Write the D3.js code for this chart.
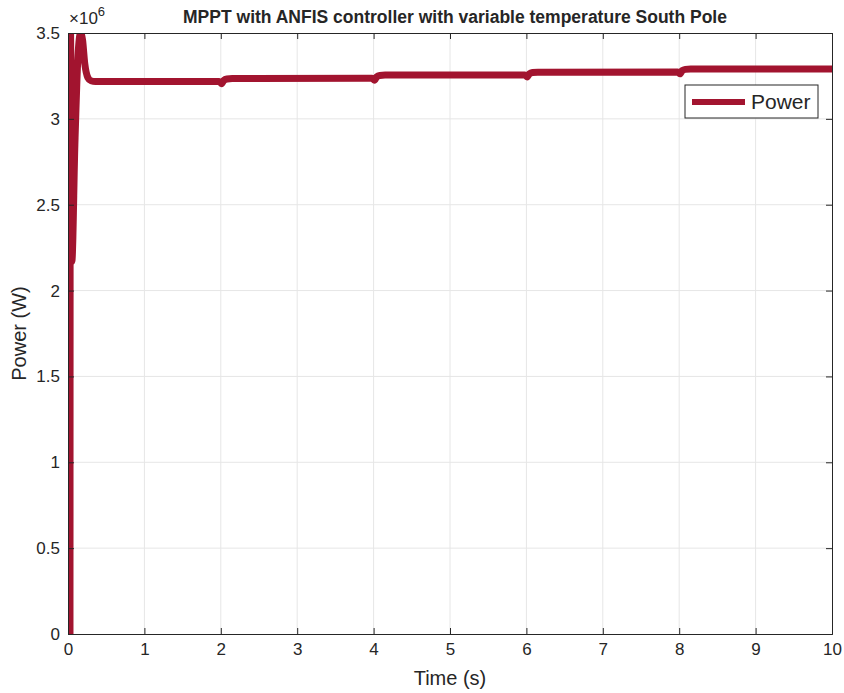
<!DOCTYPE html>
<html>
<head>
<meta charset="utf-8">
<script src="https://cdn.jsdelivr.net/npm/d3@7"></script>
<style>
  body { margin: 0; background: #fff; }
  text { font-family: "Liberation Sans", Arial, Helvetica, sans-serif; fill: #262626; }
</style>
</head>
<body>
<div id="chart"></div>
<script>
// time (s) and power (x1e6 W)
const timeS = [0.026, 0.03, 0.05, 0.09, 0.13, 0.165, 0.19, 0.22, 0.26, 0.3, 0.36, 0.5,
  1.98, 2.01, 2.04, 2.08, 2.15, 3.98, 4.01, 4.04, 4.08, 4.15, 5.98, 6.01, 6.04, 6.08, 6.15,
  7.98, 8.01, 8.04, 8.08, 8.15, 10];
const powerMW = [0, 3.65, 2.17, 2.85, 3.36, 3.5, 3.46, 3.32, 3.24, 3.222, 3.218, 3.218,
  3.218, 3.205, 3.224, 3.232, 3.235, 3.237, 3.225, 3.245, 3.253, 3.255, 3.256, 3.244, 3.263, 3.27, 3.272,
  3.273, 3.262, 3.281, 3.288, 3.29, 3.29];
const xTicks = [0, 1, 2, 3, 4, 5, 6, 7, 8, 9, 10];
const yTicks = [0, 0.5, 1, 1.5, 2, 2.5, 3, 3.5];
const yTickLabels = ["0", "0.5", "1", "1.5", "2", "2.5", "3", "3.5"];
const seriesName = "Power";
const lineColor = "#a2142f";

const W = 844, H = 693;
const margin = {top: 33, right: 12, bottom: 59, left: 68};
const width = W - margin.left - margin.right,
      height = H - margin.top - margin.bottom;

const svg = d3.select("#chart").append("svg")
  .attr("width", W).attr("height", H);

const g = svg.append("g")
  .attr("transform", `translate(${margin.left},${margin.top})`);

const x = d3.scaleLinear().domain([0, 10]).range([0, width]);
const y = d3.scaleLinear().domain([0, 3.5]).range([height, 0]);

// grid
g.append("g").selectAll("line").data(xTicks.slice(1, -1)).enter().append("line")
  .attr("x1", d => x(d)).attr("x2", d => x(d))
  .attr("y1", 0).attr("y2", height)
  .attr("stroke", "#e6e6e6").attr("stroke-width", 1);
g.append("g").selectAll("line").data(yTicks.slice(1, -1)).enter().append("line")
  .attr("y1", d => y(d)).attr("y2", d => y(d))
  .attr("x1", 0).attr("x2", width)
  .attr("stroke", "#e6e6e6").attr("stroke-width", 1);

// clip so the spike is cut at the axes top
svg.append("defs").append("clipPath").attr("id", "clip")
  .append("rect").attr("x", 0).attr("y", 0).attr("width", width).attr("height", height);

const data = timeS.map((t, i) => ({t: t, p: powerMW[i]}));
const line = d3.line().x(d => x(d.t)).y(d => y(d.p)).curve(d3.curveMonotoneX);

g.append("path")
  .datum(data)
  .attr("clip-path", "url(#clip)")
  .attr("fill", "none")
  .attr("stroke", lineColor)
  .attr("stroke-width", 7)
  .attr("stroke-linejoin", "round")
  .attr("d", line);

// axes
const axisColor = "#262626";
const xAxis = g.append("g").attr("transform", `translate(0,${height})`)
  .call(d3.axisBottom(x).tickValues(xTicks).tickSize(-6).tickPadding(9).tickFormat(d3.format("d")));
const xTop = g.append("g")
  .call(d3.axisTop(x).tickValues(xTicks).tickSize(-6).tickFormat(""));
const yAxis = g.append("g")
  .call(d3.axisLeft(y).tickValues(yTicks).tickSize(-6).tickPadding(8).tickFormat((d, i) => yTickLabels[i]));
const yRight = g.append("g").attr("transform", `translate(${width},0)`)
  .call(d3.axisRight(y).tickValues(yTicks).tickSize(-6).tickFormat(""));

[xAxis, xTop, yAxis, yRight].forEach(a => {
  a.select(".domain").attr("stroke", axisColor).attr("stroke-width", 1);
  a.selectAll(".tick line").attr("stroke", axisColor);
  a.selectAll("text").style("font-size", "17px").attr("fill", axisColor)
    .style("font-family", "'Liberation Sans', Arial, sans-serif");
});
xAxis.selectAll("text").attr("dy", "0.71em");

// exponent label
const expo = svg.append("text").attr("x", margin.left + 1).attr("y", 24)
  .style("font-size", "17px");
expo.append("tspan").text("\u00d710");
expo.append("tspan").attr("dy", -8).style("font-size", "13px").text("6");

// title
svg.append("text")
  .attr("x", margin.left + width / 2 + 5).attr("y", 23)
  .attr("text-anchor", "middle")
  .style("font-size", "17.5px").style("font-weight", "bold").attr("fill", "#000")
  .text("MPPT with ANFIS controller with variable temperature South Pole");

// axis labels
svg.append("text")
  .attr("x", margin.left + width / 2).attr("y", 685)
  .attr("text-anchor", "middle").style("font-size", "20px")
  .text("Time (s)");
svg.append("text")
  .attr("transform", `translate(26,${margin.top + height / 2}) rotate(-90)`)
  .attr("text-anchor", "middle").style("font-size", "20px")
  .text("Power (W)");

// legend
const lg = svg.append("g").attr("transform", "translate(685,85)");
lg.append("rect").attr("width", 133).attr("height", 33)
  .attr("fill", "#fff").attr("stroke", axisColor).attr("stroke-width", 1);
lg.append("line").attr("x1", 7).attr("x2", 60).attr("y1", 17).attr("y2", 17)
  .attr("stroke", lineColor).attr("stroke-width", 6);
lg.append("text").attr("x", 66).attr("y", 24).style("font-size", "21px").attr("fill", "#000")
  .text(seriesName);
</script>
</body>
</html>
